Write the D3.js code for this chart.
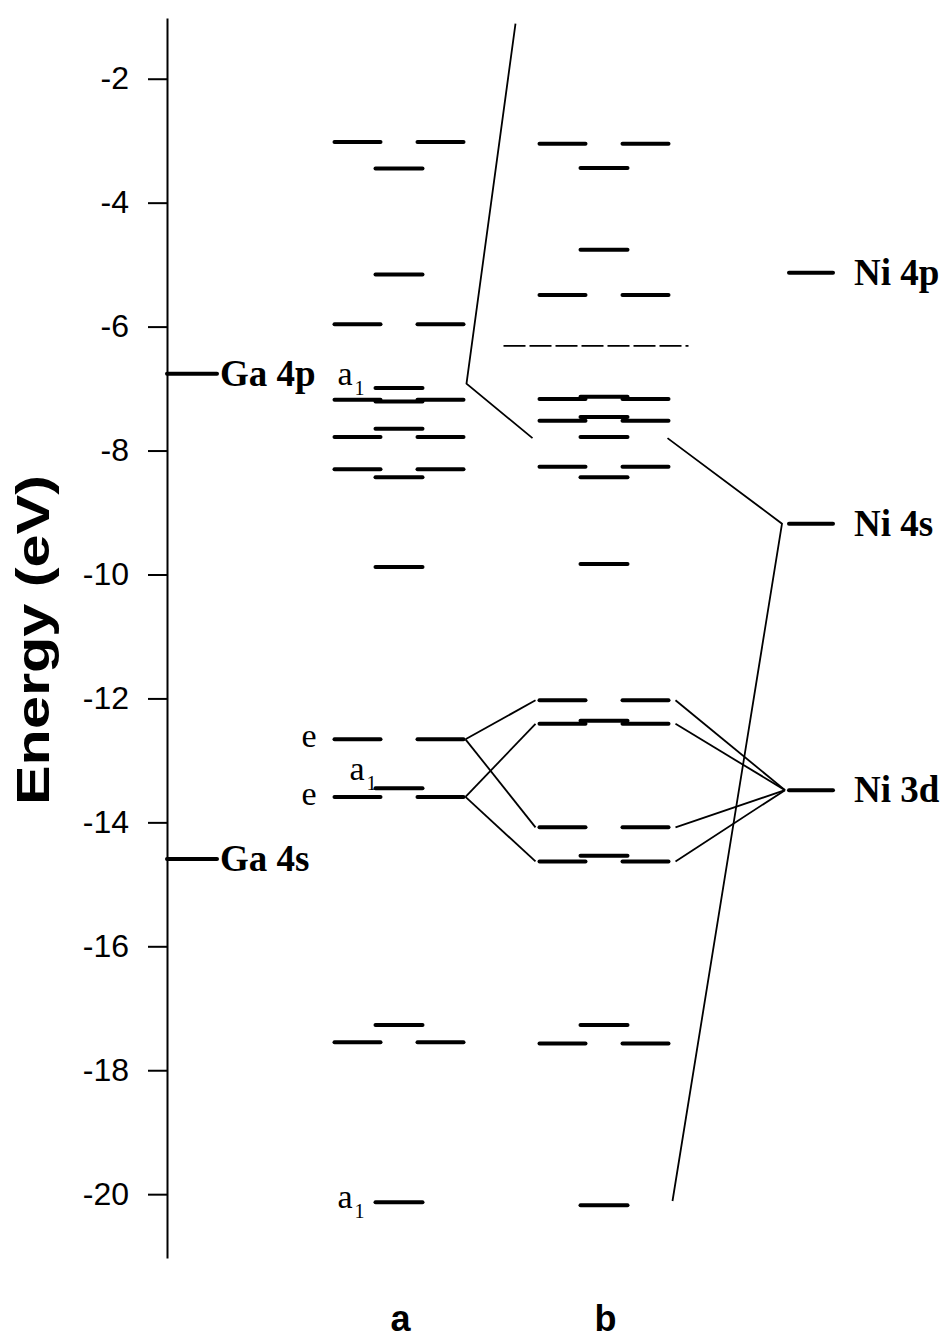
<!DOCTYPE html>
<html>
<head>
<meta charset="utf-8">
<script src="https://cdn.jsdelivr.net/npm/d3@7"></script>
<style>
  body { margin: 0; background: #fff; }
</style>
</head>
<body>
<div id="chart"></div>
<script>
// --------------- Data ---------------
const TICKS = [-2, -4, -6, -8, -10, -12, -14, -16, -18, -20];
const AXIS_DOMAIN = [-1.02, -21.03];

// [energy (eV), symmetry]  e = doubly degenerate pair, a = single level
const levelsA = [
  [-3.02, "e"], [-3.45, "a"], [-5.16, "a"], [-5.96, "e"], [-6.99, "a"],
  [-7.18, "e"], [-7.21, "a"], [-7.65, "a"], [-7.78, "e"], [-8.30, "e"],
  [-8.43, "a"], [-9.88, "a"], [-12.66, "e"], [-13.45, "a"], [-13.59, "e"],
  [-17.27, "a"], [-17.55, "e"], [-20.13, "a"],
];
const levelsB = [
  [-3.05, "e"], [-3.44, "a"], [-4.76, "a"], [-5.49, "e"], [-7.17, "e"],
  [-7.13, "a"], [-7.52, "e"], [-7.46, "a"], [-7.78, "a"], [-8.26, "e"],
  [-8.43, "a"], [-9.83, "a"], [-12.03, "e"], [-12.41, "e"], [-12.36, "a"],
  [-14.08, "e"], [-14.63, "e"], [-14.54, "a"], [-17.27, "a"], [-17.57, "e"],
  [-20.18, "a"],
];
const homoB = -6.31;

const gaLevels = [["Ga 4p", -6.76], ["Ga 4s", -14.59]];
const niLevels = [["Ni 4p", -5.13], ["Ni 4s", -9.18], ["Ni 3d", -13.48]];

// symmetry labels on column a: [symbol, subscript, energy]
const labelsA = [
  ["a", "1", -6.99], ["e", "", -12.66], ["a", "1", -13.45],
  ["e", "", -13.59], ["a", "1", -20.13],
];

// correlation lines
const aToB = [[-12.66, -12.03], [-12.66, -14.08], [-13.59, -12.41], [-13.59, -14.63]];
const bToNi3d = [-12.03, -12.41, -14.08, -14.63];
const ni4sPath = [-7.80, -9.18, -20.11];   // b level, Ni 4s, b level
const upperPath = [-1.11, -6.92, -7.80];   // top, column a, column b

const columnNames = ["a", "b"];

// --------------- Layout ---------------
const WIDTH = 943, HEIGHT = 1342;
const SLOTS = { e: [[-66, -16], [17, 67]], a: [[-25, 26]] };
const LABEL_SHIFT = [[-61, -3], [-97, 8], [-49, -8], [-97, 8], [-61, 6]]; // dx from centre, dy from level

const svg = d3.select("#chart").append("svg")
  .attr("width", WIDTH).attr("height", HEIGHT);

const y = d3.scaleLinear().domain(AXIS_DOMAIN).range([18, 1258]);
const colX = d3.scaleOrdinal().domain(["Ga", "a", "b", "Ni"]).range([167, 398.5, 603.5, 811]);

// --------------- Axis ---------------
const axis = svg.append("g")
  .attr("transform", "translate(167,0)")
  .call(d3.axisLeft(y).tickValues(TICKS).tickSize(19).tickSizeOuter(0)
    .tickPadding(19).tickFormat(d => String(d)));
axis.select(".domain").attr("stroke-width", 2);
axis.selectAll(".tick line").attr("stroke-width", 2);
axis.selectAll(".tick text")
  .attr("font-family", "Liberation Sans, Arial, sans-serif")
  .attr("font-size", 32)
  .attr("fill", "#000");

svg.append("text")
  .attr("transform", "translate(33,640) rotate(-90)")
  .attr("text-anchor", "middle")
  .attr("dominant-baseline", "central")
  .attr("font-family", "Liberation Sans, Arial, sans-serif")
  .attr("font-weight", "bold")
  .attr("font-size", 46)
  .attr("textLength", 330)
  .attr("lengthAdjust", "spacingAndGlyphs")
  .text("Energy (eV)");

// --------------- Levels ---------------
const segs = [];
[["a", levelsA], ["b", levelsB]].forEach(([col, levels]) => {
  levels.forEach(([E, sym]) => {
    SLOTS[sym].forEach(([x1, x2]) => segs.push({ x1: colX(col) + x1 + 2, x2: colX(col) + x2 - 2, E }));
  });
});
gaLevels.forEach(([, E]) => segs.push({ x1: colX("Ga"), x2: colX("Ga") + 50, E }));
niLevels.forEach(([, E]) => segs.push({ x1: colX("Ni") - 22, x2: colX("Ni") + 22, E }));

svg.append("g").selectAll("line").data(segs).join("line")
  .attr("x1", d => d.x1).attr("x2", d => d.x2)
  .attr("y1", d => y(d.E)).attr("y2", d => y(d.E))
  .attr("stroke", "#000").attr("stroke-width", 4).attr("stroke-linecap", "round");

svg.append("line")
  .attr("x1", colX("b") - 100).attr("x2", colX("b") + 85)
  .attr("y1", y(homoB)).attr("y2", y(homoB))
  .attr("stroke", "#000").attr("stroke-width", 1.8)
  .attr("stroke-dasharray", "22,4");

// --------------- Correlation lines ---------------
const thin = (sel) => sel.attr("stroke", "#000").attr("stroke-width", 1.8).attr("fill", "none");
const line = d3.line().x(d => d[0]).y(d => y(d[1]));

const paths = [];
aToB.forEach(([ea, eb]) => paths.push([[colX("a") + 67, ea], [colX("b") - 68, eb]]));
bToNi3d.forEach(eb => paths.push([[colX("b") + 72, eb], [colX("Ni") - 26, niLevels[2][1]]]));
paths.push([[colX("b") + 64, ni4sPath[0]], [colX("Ni") - 29, ni4sPath[1]], [colX("b") + 69, ni4sPath[2]]]);
paths.push([[colX("b") - 88, upperPath[0]], [colX("a") + 68, upperPath[1]], [colX("b") - 71, upperPath[2]]]);

svg.append("g").selectAll("path").data(paths).join("path")
  .attr("d", line).call(thin);

// --------------- Labels ---------------
const serif = "Liberation Serif, Times New Roman, serif";
labelsA.forEach(([sym, sub, E], i) => {
  const [dx, dy] = LABEL_SHIFT[i];
  const t = svg.append("text")
    .attr("x", colX("a") + dx).attr("y", y(E) + dy)
    .attr("font-family", serif).attr("font-size", 34)
    .text(sym);
  if (sub) t.append("tspan").attr("dx", 2).attr("dy", 10).attr("font-size", 20).text(sub);
});

gaLevels.forEach(([name, E]) => {
  svg.append("text").attr("x", colX("Ga") + 53).attr("y", y(E) + 12)
    .attr("font-family", serif).attr("font-weight", "bold").attr("font-size", 37)
    .text(name);
});
niLevels.forEach(([name, E]) => {
  svg.append("text").attr("x", colX("Ni") + 43).attr("y", y(E) + 12)
    .attr("font-family", serif).attr("font-weight", "bold").attr("font-size", 37)
    .text(name);
});

svg.selectAll(".col-name").data(columnNames).join("text")
  .attr("class", "col-name")
  .attr("x", d => colX(d) + 2).attr("y", 1331)
  .attr("text-anchor", "middle")
  .attr("font-family", "Liberation Sans, Arial, sans-serif")
  .attr("font-weight", "bold").attr("font-size", 36)
  .text(d => d);
</script>
</body>
</html>
